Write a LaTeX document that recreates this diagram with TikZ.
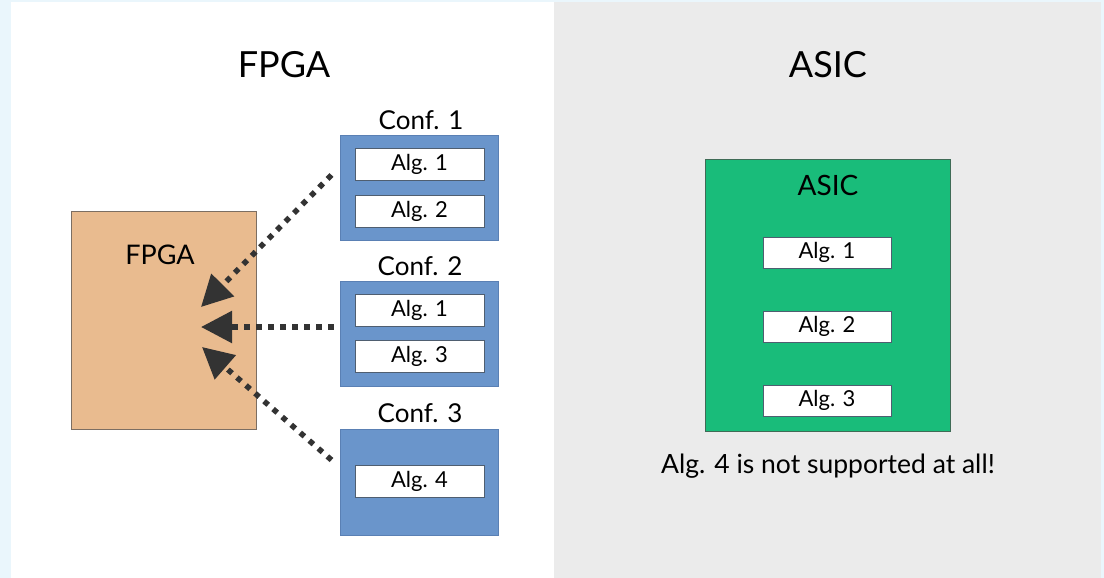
\documentclass[tikz,border=0pt]{standalone}
\usepackage{fontspec}
\setmainfont{Lato}
\usetikzlibrary{arrows.meta}

\definecolor{edgeblue}{HTML}{EAF6FC}
\definecolor{panelgrey}{HTML}{EBEBEB}
\definecolor{fpgafill}{HTML}{E9BB8F}
\definecolor{fpgaline}{HTML}{7C6E62}
\definecolor{confblue}{HTML}{6A95CB}
\definecolor{confline}{HTML}{5A80B4}
\definecolor{asicgreen}{HTML}{19BC7A}
\definecolor{asicline}{HTML}{3F6B56}
\definecolor{algline}{HTML}{4F5E70}
\definecolor{arrowgrey}{HTML}{333333}

\tikzset{
  txt/.style={font=\fontsize{#1}{#1}\selectfont, text=black, inner sep=0pt},
  fpgabox/.style={draw=fpgaline, line width=1pt, fill=fpgafill,
    minimum width=185pt, minimum height=218pt, inner sep=0pt},
  confbox/.style={draw=confline, line width=1pt, fill=confblue,
    minimum width=158pt, minimum height=105pt, inner sep=0pt},
  asicbox/.style={draw=asicline, line width=1pt, fill=asicgreen,
    minimum width=245pt, minimum height=272pt, inner sep=0pt},
  algbox/.style={draw=algline, line width=0.8pt, fill=white,
    minimum width=129pt, minimum height=32pt, inner sep=0pt,
    font=\fontsize{22}{22}\selectfont},
  dotarrow/.style={draw=arrowgrey, line width=5.5pt, dash pattern=on 5.5pt off 6.5pt,
    -{Triangle[length=31pt,width=31pt]}},
}

\begin{document}
\begin{tikzpicture}[x=1pt,y=-1pt]
  % page and the two panels
  \fill[edgeblue] (0,0) rectangle (1104,578);
  \fill[white] (11,2) rectangle (554,578);
  \fill[panelgrey] (554,2) rectangle (1101,578);
  \useasboundingbox (0,0) rectangle (1104,578);

  % panel titles
  \node[txt=36] (tfpga) at (284,65) {FPGA};
  \node[txt=36] (tasic) at (828,65) {ASIC};

  % FPGA side
  \node[fpgabox] (fpga) at (163.5,320) {};
  \node[txt=27] (fpgalbl) at (160,255) {FPGA};

  \node[confbox] (c1) at (419,187.5) {};
  \node[confbox] (c2) at (419,333.5) {};
  \node[confbox, minimum height=106pt] (c3) at (419,482) {};

  \node[txt=26] (c1lbl) at (421,120) {Conf. 1};
  \node[txt=26] (c2lbl) at (420,266) {Conf. 2};
  \node[txt=26] (c3lbl) at (420,413) {Conf. 3};

  \node[algbox] (a11) at (419.5,164) {Alg. 1};
  \node[algbox] (a12) at (419.5,211) {Alg. 2};
  \node[algbox] (a21) at (419.5,310.5) {Alg. 1};
  \node[algbox] (a23) at (419.5,356.5) {Alg. 3};
  \node[algbox] (a34) at (419.5,481.5) {Alg. 4};

  % loading paths from each configuration into the FPGA
  \coordinate (s1) at ([xshift=-8pt,yshift=12.5pt]c1.west);
  \coordinate (s2) at ([xshift=-6pt,yshift=6.5pt]c2.west);
  \coordinate (s3) at ([xshift=-8pt,yshift=22pt]c3.west);
  \coordinate (t1) at (201,307);
  \coordinate (t2) at (201,327);
  \coordinate (t3) at (202,347);
  \draw[dotarrow] (s1) -- (t1);
  \draw[dotarrow] (s2) -- (t2);
  \draw[dotarrow] (s3) -- (t3);

  % ASIC side
  \node[asicbox] (asic) at (827.5,295) {};
  \node[txt=28] (asiclbl) at (828,185) {ASIC};
  \node[algbox, minimum width=128pt, minimum height=31pt] (b1) at (827,252.5) {Alg. 1};
  \node[algbox, minimum width=128pt, minimum height=31pt] (b2) at (827,326.5) {Alg. 2};
  \node[algbox, minimum width=128pt, minimum height=31pt] (b3) at (827,400.5) {Alg. 3};
  \node[txt=26.5] (note) at (828,466) {Alg. 4 is not supported at all!};
\end{tikzpicture}
\end{document}
